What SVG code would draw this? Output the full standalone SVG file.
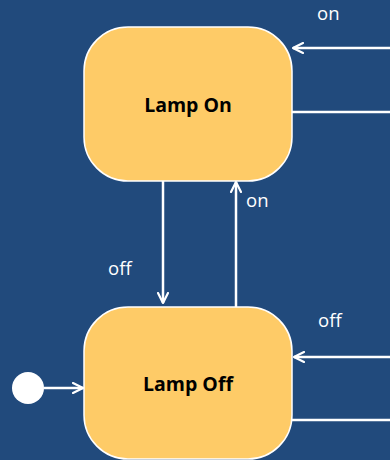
<svg xmlns="http://www.w3.org/2000/svg" width="390" height="460" viewBox="0 0 390 460">
<style>
.state{fill:#FECB67;stroke:#FFFFFF;stroke-width:1.5}
.name{font-family:"Open Sans","Liberation Sans",sans-serif;font-weight:bold;font-size:19.5px;fill:#000;text-anchor:middle}
.lbl{font-family:"Open Sans","Liberation Sans",sans-serif;font-size:18.5px;fill:#FFFFFF}
.edge{stroke:#FFFFFF;stroke-width:2.5;fill:none}
</style>
<defs>
<marker id="arr" viewBox="0 0 12 12" refX="11" refY="6" markerWidth="12" markerHeight="12" markerUnits="userSpaceOnUse" orient="auto">
<path d="M1,1 L11,6 L1,11" fill="none" stroke="#FFFFFF" stroke-width="2.2" stroke-linecap="round" stroke-linejoin="round"/>
</marker>
</defs>
<rect width="390" height="460" fill="#214A7C"/>
<g id="connectors">
<line class="edge" x1="390" y1="48" x2="293" y2="48" marker-end="url(#arr)"/>
<line class="edge" x1="292" y1="112" x2="390" y2="112"/>
<line class="edge" x1="163" y1="177" x2="163" y2="303" marker-end="url(#arr)"/>
<line class="edge" x1="236" y1="307" x2="236" y2="182" marker-end="url(#arr)"/>
<line class="edge" x1="390" y1="357" x2="294" y2="357" marker-end="url(#arr)"/>
<line class="edge" x1="292" y1="420" x2="390" y2="420"/>
<line class="edge" x1="44" y1="388" x2="83" y2="388" marker-end="url(#arr)"/>
<text class="lbl" x="317" y="20">on</text>
<text class="lbl" x="246" y="207">on</text>
<text class="lbl" x="108" y="275">off</text>
<text class="lbl" x="318" y="327">off</text>
</g>
<g id="lamp-on">
<rect class="state" x="84" y="27" width="208" height="154" rx="44" ry="44"/>
<text class="name" x="188" y="112">Lamp On</text>
</g>
<g id="lamp-off">
<rect class="state" x="84" y="307" width="208" height="152" rx="44" ry="44"/>
<text class="name" x="188" y="391">Lamp Off</text>
</g>
<g id="initial">
<circle cx="28" cy="388" r="16" fill="#FFFFFF"/>
</g>
</svg>
